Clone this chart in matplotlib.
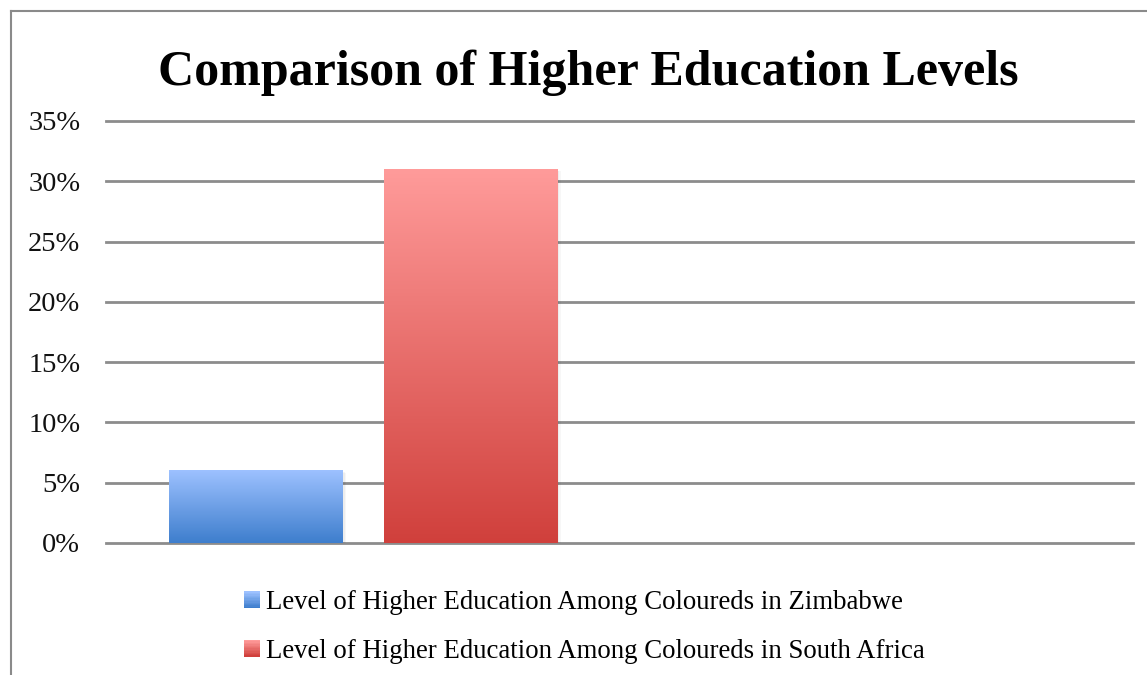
import numpy as np
import matplotlib
matplotlib.use("Agg")
import matplotlib.pyplot as plt
from matplotlib.lines import Line2D
from matplotlib.patches import Rectangle
from matplotlib.legend_handler import HandlerBase
from matplotlib.colors import LinearSegmentedColormap
from matplotlib.ticker import PercentFormatter

title = "Comparison of Higher Education Levels"
series_names = ["Level of Higher Education Among Coloureds in Zimbabwe",
                "Level of Higher Education Among Coloureds in South Africa"]
values = [0.06, 0.31]
yticks = [0, 0.05, 0.10, 0.15, 0.20, 0.25, 0.30, 0.35]
top_colors = ["#9DC1FF", "#FF9B9A"]
bottom_colors = ["#3E7ECD", "#D0403C"]

W, H = 1147, 675
fig = plt.figure(figsize=(W / 100, H / 100), dpi=100)
fig.patch.set_facecolor("white")
font = ["Liberation Serif", "DejaVu Serif"]

ax = fig.add_axes([106 / W, (H - 543) / H, (1133 - 106) / W, (543 - 121) / H])
for s in ax.spines.values():
    s.set_visible(False)
ax.set_yticks(yticks)
ax.yaxis.set_major_formatter(PercentFormatter(1.0, decimals=0))
ax.tick_params(axis="y", length=0, pad=18.5, labelsize=20.5, labelcolor="#111111")
for lab in ax.get_yticklabels():
    lab.set_family(font)
ax.set_xticks([])
ax.grid(axis="y", color="#8C8C8C", linewidth=2.0, zorder=0)
ax.set_axisbelow(True)

xpos = np.arange(len(values))
bars = ax.bar(xpos, values, width=0.807, color="none", zorder=2)
grad = np.linspace(0, 1, 256).reshape(-1, 1)
for i, b in enumerate(bars):
    x0, y0 = b.get_x(), b.get_y()
    w, h = b.get_width(), b.get_height()
    for k, a in enumerate([0.05, 0.04, 0.03]):
        sh = Rectangle((x0 + 0.006 * (k + 1), y0 - 0.0006 * (k + 1)), w, h,
                       facecolor="black", alpha=a, edgecolor="none", zorder=1.5)
        ax.add_patch(sh)
    cmap = LinearSegmentedColormap.from_list("g%d" % i, [bottom_colors[i], top_colors[i]])
    ax.imshow(grad, cmap=cmap, aspect="auto", origin="lower",
              extent=(x0, x0 + w, y0, y0 + h), zorder=3)
ax.set_xlim(-0.697, 4.09)
ax.set_ylim(0, 0.35)
for gl in ax.get_ygridlines():
    gl.set_clip_on(False)

fig.text(588 / W, 1 - 85 / H, title, ha="center", va="baseline",
         fontsize=36, fontweight="bold", family=font, color="black")


class GradHandler(HandlerBase):
    def __init__(self, top, bottom):
        super().__init__()
        self.top, self.bottom = top, bottom

    def create_artists(self, legend, orig_handle, xdescent, ydescent, width, height, fontsize, trans):
        cmap = LinearSegmentedColormap.from_list("lg", [self.bottom, self.top])
        n = 12
        arts = []
        for j in range(n):
            r = Rectangle((-xdescent, -ydescent + height * j / n), width, height / n + 0.3,
                          facecolor=cmap(j / (n - 1)), edgecolor="none", transform=trans)
            arts.append(r)
        return arts


handles = [Rectangle((0, 0), 1, 1) for _ in values]
hmap = {handles[i]: GradHandler(top_colors[i], bottom_colors[i]) for i in range(len(values))}
leg = fig.legend(handles, series_names, handler_map=hmap, loc="center left",
                 bbox_to_anchor=(244 / W, 1 - 627 / H), frameon=False, borderpad=0,
                 borderaxespad=0,
                 prop={"family": font, "size": 19.3}, handlelength=0.58, handleheight=0.58,
                 handletextpad=0.25, labelspacing=0.88)

fig.add_artist(Line2D([11 / W, 11 / W], [0, 1 - 11 / H], color="#8A8A8A", linewidth=1.5,
                      transform=fig.transFigure))
fig.add_artist(Line2D([11 / W, 1], [1 - 11 / H, 1 - 11 / H], color="#8A8A8A", linewidth=1.5,
                      transform=fig.transFigure))

fig.savefig("out.png", dpi=100, facecolor="white")
